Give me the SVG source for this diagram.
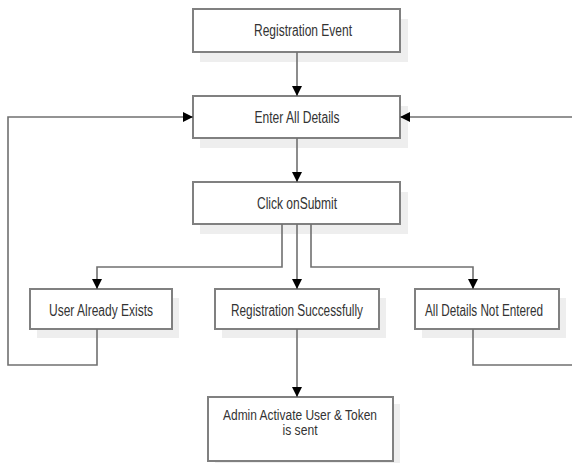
<svg xmlns="http://www.w3.org/2000/svg" width="572" height="463" viewBox="0 0 572 463">
  <style>
    .shadow { fill: #eeeeee; }
    .box { fill: #ffffff; stroke: #808080; stroke-width: 2; }
    .label { font-family: "Liberation Sans Narrow", "Liberation Sans", Arial, sans-serif; font-size: 16px; fill: #333333; text-anchor: middle; }
    .small { font-size: 14px; }
    .wire { fill: none; stroke: #707070; stroke-width: 1.6; }
    .wire-arrow { marker-end: url(#head); }
  </style>
  <defs>
    <marker id="head" viewBox="0 0 10 10" refX="10" refY="5" markerWidth="10" markerHeight="10" markerUnits="userSpaceOnUse" orient="auto">
      <path d="M0,0 L10,5 L0,10 Z" fill="#000000"/>
    </marker>
  </defs>
  <rect width="572" height="463" fill="#ffffff"/>

  <g id="registration-event">
    <rect class="shadow" x="200" y="19" width="208" height="43"/>
    <rect class="box" x="193" y="9" width="207" height="43"/>
    <text class="label" x="303" y="36" textLength="98" lengthAdjust="spacingAndGlyphs">Registration Event</text>
  </g>

  <g id="enter-all-details">
    <rect class="shadow" x="200" y="106" width="208" height="42"/>
    <rect class="box" x="193" y="96" width="207" height="42"/>
    <text class="label" x="297" y="123" textLength="85" lengthAdjust="spacingAndGlyphs">Enter All Details</text>
  </g>

  <g id="click-onsubmit">
    <rect class="shadow" x="200" y="192" width="208" height="42"/>
    <rect class="box" x="193" y="182" width="207" height="42"/>
    <text class="label" x="297" y="209" textLength="80" lengthAdjust="spacingAndGlyphs">Click onSubmit</text>
  </g>

  <g id="user-already-exists">
    <rect class="shadow" x="37" y="298" width="142" height="40"/>
    <rect class="box" x="30" y="289" width="142" height="40"/>
    <text class="label" x="101" y="316" textLength="104" lengthAdjust="spacingAndGlyphs">User Already Exists</text>
  </g>

  <g id="registration-successfully">
    <rect class="shadow" x="222" y="298" width="164" height="40"/>
    <rect class="box" x="215" y="289" width="164" height="40"/>
    <text class="label" x="297" y="316" textLength="132" lengthAdjust="spacingAndGlyphs">Registration Successfully</text>
  </g>

  <g id="all-details-not-entered">
    <rect class="shadow" x="422" y="298" width="144" height="40"/>
    <rect class="box" x="415" y="289" width="144" height="40"/>
    <text class="label" x="484" y="316" textLength="118" lengthAdjust="spacingAndGlyphs">All Details Not Entered</text>
  </g>

  <g id="admin-activate">
    <rect class="shadow" x="215" y="404" width="185" height="64"/>
    <rect class="box" x="208" y="397" width="185" height="64"/>
    <text class="label small" x="300" y="420" textLength="154" lengthAdjust="spacingAndGlyphs">Admin Activate User &amp; Token</text>
    <text class="label small" x="300" y="435" textLength="35" lengthAdjust="spacingAndGlyphs">is sent</text>
  </g>

  <g id="connectors">
    <path class="wire wire-arrow" d="M297,52 V96"/>
    <path class="wire wire-arrow" d="M297,138 V182"/>
    <path class="wire wire-arrow" d="M282,224 V267 H97 V289"/>
    <path class="wire wire-arrow" d="M297,224 V289"/>
    <path class="wire wire-arrow" d="M311,224 V267 H473 V289"/>
    <path class="wire wire-arrow" d="M297,329 V397"/>
    <path class="wire wire-arrow" d="M97,329 V365 H8 V117 H193"/>
    <path class="wire wire-arrow" d="M473,329 V365 H576 V117 H400"/>
  </g>
</svg>
